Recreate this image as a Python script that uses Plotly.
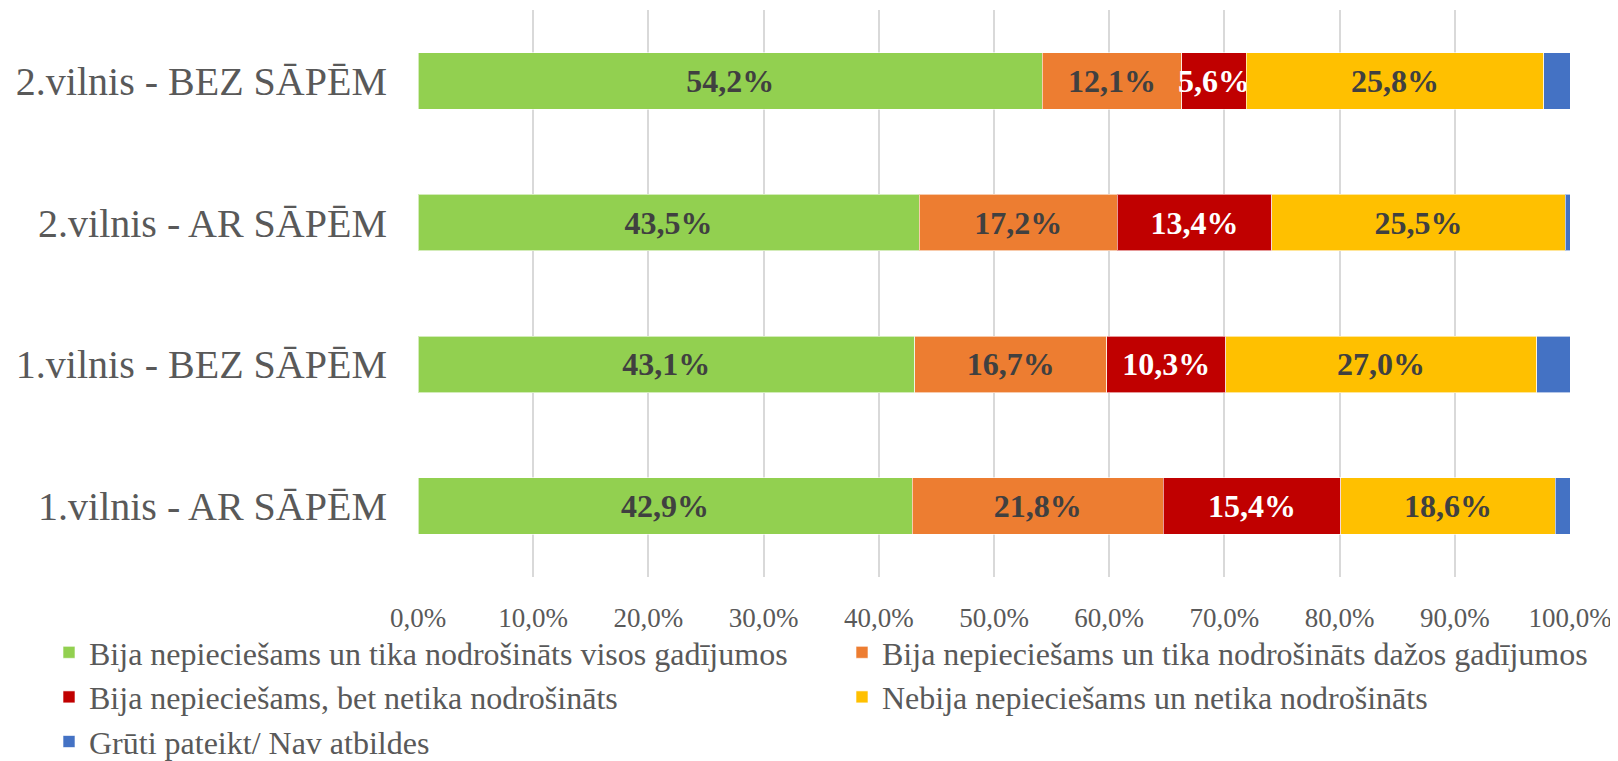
import plotly.graph_objects as go

categories = ["1.vilnis - AR SĀPĒM", "1.vilnis - BEZ SĀPĒM", "2.vilnis - AR SĀPĒM", "2.vilnis - BEZ SĀPĒM"]

series_names = [
    "Bija nepieciešams un tika nodrošināts visos gadījumos",
    "Bija nepieciešams un tika nodrošināts dažos gadījumos",
    "Bija nepieciešams, bet netika nodrošināts",
    "Nebija nepieciešams un netika nodrošināts",
    "Grūti pateikt/ Nav atbildes",
]
visos = [42.9, 43.1, 43.5, 54.2]
dazos = [21.8, 16.7, 17.2, 12.1]
netika = [15.4, 10.3, 13.4, 5.6]
nebija = [18.6, 27.0, 25.5, 25.8]
gruti = [1.3, 2.9, 0.4, 2.3]

tick_vals = [0, 10, 20, 30, 40, 50, 60, 70, 80, 90, 100]
tick_labels = ["0,0%", "10,0%", "20,0%", "30,0%", "40,0%", "50,0%", "60,0%", "70,0%", "80,0%", "90,0%", "100,0%"]

colors = ["#92D050", "#ED7D31", "#C00000", "#FFC000", "#4472C4"]
label_colors = ["#404040", "#404040", "#FFFFFF", "#404040", None]
legends = ["legend", "legend2", "legend", "legend2", "legend"]
values = [visos, dazos, netika, nebija, gruti]

FONT = "Liberation Serif, Times New Roman, serif"
W, H = 1610, 753  # page body has an 8px default margin

fig = go.Figure()
for name, vals, col, lc, lg in zip(series_names, values, colors, label_colors, legends):
    fig.add_trace(go.Bar(
        y=categories, x=vals, name=name, orientation="h",
        marker=dict(color=col, line=dict(color="rgba(255,255,255,0.6)", width=1)),
        texttemplate="%{x:.1f}%" if lc else "",
        textposition="inside" if lc else "none",
        insidetextanchor="middle",
        constraintext="none",
        textangle=0,
        textfont=dict(family=FONT, size=32, color=lc if lc else "#404040", weight="bold"),
        legend=lg,
        hoverinfo="skip",
    ))

fig.update_layout(
    width=W, height=H,
    barmode="stack", bargap=0.6,
    separators=",.",
    paper_bgcolor="white", plot_bgcolor="white",
    margin=dict(l=410, r=48, t=2, b=184, autoexpand=False),
    font=dict(family=FONT, color="#595959"),
    xaxis=dict(
        range=[0, 100], tickvals=tick_vals, ticktext=tick_labels,
        showgrid=True, gridcolor="#D9D9D9", gridwidth=1.5,
        zeroline=False, showline=False, automargin=False,
        tickfont=dict(family=FONT, size=27, color="#595959"),
        ticklabelstandoff=22,
    ),
    yaxis=dict(
        categoryorder="array", categoryarray=categories,
        showgrid=False, zeroline=False, showline=False, automargin=False,
        tickfont=dict(family=FONT, size=40, color="#595959"),
        ticklabelstandoff=30,
    ),
    legend=dict(
        orientation="v", xref="container", yref="container",
        x=41 / W, y=1 - 617 / H, xanchor="left", yanchor="top",
        font=dict(family=FONT, size=32, color="#595959"),
        traceorder="normal", bgcolor="rgba(0,0,0,0)",
    ),
    legend2=dict(
        orientation="v", xref="container", yref="container",
        x=834 / W, y=1 - 617 / H, xanchor="left", yanchor="top",
        font=dict(family=FONT, size=32, color="#595959"),
        traceorder="normal", bgcolor="rgba(0,0,0,0)",
    ),
)

fig.write_html("out.html")
